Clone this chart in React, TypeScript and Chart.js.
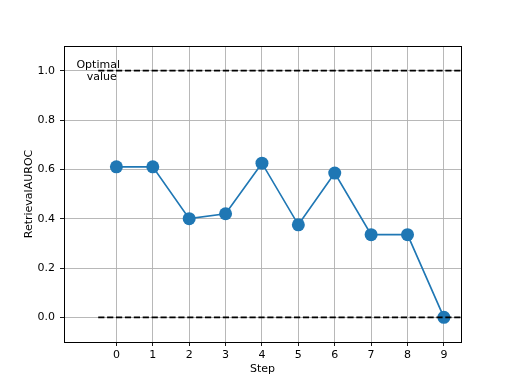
import { useEffect, useRef } from "react";
import { Chart, registerables } from "chart.js";

Chart.register(...registerables);

const steps = [0, 1, 2, 3, 4, 5, 6, 7, 8, 9];
const auroc = [0.61, 0.61, 0.4, 0.42, 0.625, 0.375, 0.585, 0.335, 0.335, 0.0];
const xTicks = [0, 1, 2, 3, 4, 5, 6, 7, 8, 9];
const yTicks = [0, 0.2, 0.4, 0.6, 0.8, 1.0];
const optimalValue = 1.0;
const baselineValue = 0.0;
const hlineStart = -0.5;
const hlineEnd = 9.5;
const xLimits = [-1.44, 9.47];
const yLimits = [-0.1, 1.1];
const optimalLabel = ["Optimal", "  value"];
const xTitle = "Step";
const yTitle = "RetrievalAUROC";

const FONT = "'DejaVu Sans', sans-serif";
const BLUE = "#1f77b4";

const framePlugin = {
  id: "frameAndText",
  afterDatasetsDraw(chart: any) {
    const { ctx, chartArea, scales } = chart;
    ctx.save();
    const x = scales.x.getPixelForValue(hlineStart);
    const y = scales.y.getPixelForValue(optimalValue);
    ctx.fillStyle = "#000";
    ctx.font = `11px ${FONT}`;
    ctx.textAlign = "center";
    ctx.textBaseline = "middle";
    const lh = 12.5;
    optimalLabel.forEach((t, i) => {
      ctx.fillText(t, x, y + 0.5 + (i - (optimalLabel.length - 1) / 2) * lh);
    });
    ctx.strokeStyle = "#000";
    ctx.lineWidth = 1;
    ctx.strokeRect(
      Math.round(chartArea.left) + 0.5,
      Math.round(chartArea.top) + 0.5,
      Math.round(chartArea.right - chartArea.left),
      Math.round(chartArea.bottom - chartArea.top)
    );
    ctx.restore();
  },
};

export default function App() {
  const ref = useRef<HTMLCanvasElement>(null);
  useEffect(() => {
    if (!ref.current) return;
    const dashed = (v: number) => ({
      data: [
        { x: hlineStart, y: v },
        { x: hlineEnd, y: v },
      ],
      showLine: true,
      borderColor: "#000",
      borderWidth: 1.67,
      borderDash: [6.2, 2.7],
      pointRadius: 0,
      order: 0,
    });
    const chart = new Chart(ref.current, {
      type: "scatter",
      data: {
        datasets: [
          dashed(optimalValue) as any,
          dashed(baselineValue) as any,
          {
            data: steps.map((s, i) => ({ x: s, y: auroc[i] })),
            showLine: true,
            borderColor: BLUE,
            borderWidth: 1.67,
            backgroundColor: BLUE,
            pointBackgroundColor: BLUE,
            pointBorderWidth: 0,
            pointRadius: 6.5,
            order: 1,
          },
        ],
      },
      options: {
        animation: false,
        responsive: false,
        devicePixelRatio: 1,
        layout: { padding: { top: 46, right: 51, left: 0, bottom: 0 } },
        plugins: { legend: { display: false }, tooltip: { enabled: false } },
        scales: {
          x: {
            type: "linear",
            min: xLimits[0],
            max: xLimits[1],
            afterBuildTicks: (s: any) => {
              s.ticks = xTicks.map((v) => ({ value: v }));
            },
            afterFit: (s: any) => {
              s.height = 42;
            },
            grid: {
              color: "#b0b0b0",
              lineWidth: 0.9,
              tickColor: "#000",
              tickLength: 4,
            },
            border: { display: false },
            ticks: {
              color: "#000",
              font: { family: FONT, size: 11 },
              padding: 3,
              maxRotation: 0,
              callback: (v: any) => String(v),
            },
            title: {
              display: true,
              text: xTitle,
              color: "#000",
              font: { family: FONT, size: 11 },
              padding: { top: 0, bottom: 8.6 },
            },
          },
          y: {
            type: "linear",
            min: yLimits[0],
            max: yLimits[1],
            afterBuildTicks: (s: any) => {
              s.ticks = yTicks.map((v) => ({ value: v }));
            },
            afterFit: (s: any) => {
              s.width = 64;
            },
            grid: {
              color: "#b0b0b0",
              lineWidth: 0.9,
              tickColor: "#000",
              tickLength: 4,
            },
            border: { display: false },
            ticks: {
              color: "#000",
              font: { family: FONT, size: 11 },
              padding: 5,
              callback: (v: any) => Number(v).toFixed(1),
            },
            title: {
              display: true,
              text: yTitle,
              color: "#000",
              font: { family: FONT, size: 11 },
              padding: { top: 22.4, bottom: 0 },
            },
          },
        },
      },
      plugins: [framePlugin],
    });
    return () => chart.destroy();
  }, []);
  return (
    <div style={{ position: "fixed", left: 0, top: 0, width: 512, height: 384, background: "#fff" }}>
      <canvas ref={ref} width={512} height={384} style={{ width: 512, height: 384 }} />
    </div>
  );
}
